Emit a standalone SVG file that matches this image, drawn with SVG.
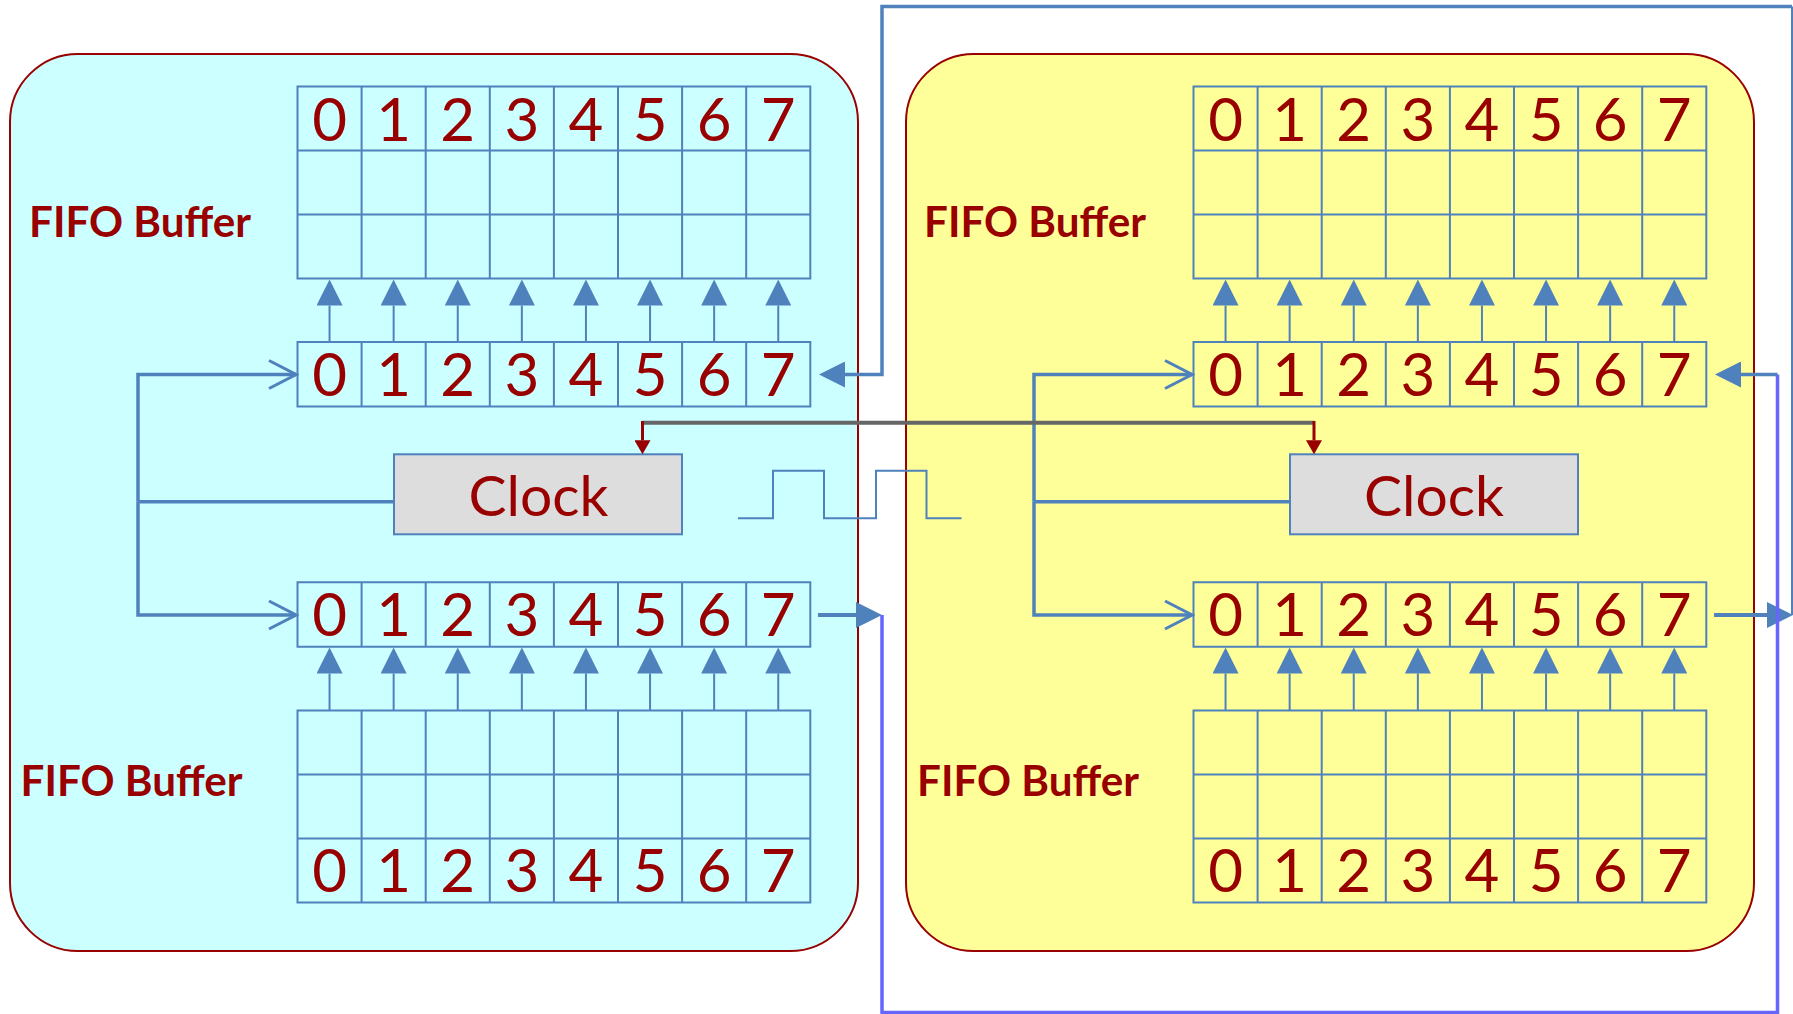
<svg xmlns="http://www.w3.org/2000/svg" width="1793" height="1014" viewBox="0 0 1793 1014">
<style>
.panelA{fill:#CCFFFF;stroke:#990000;stroke-width:2}
.panelB{fill:#FFFF99;stroke:#990000;stroke-width:2}
.grid{fill:none;stroke:#4F81BD;stroke-width:2}
.dig{font-family:Lato,"Liberation Sans",sans-serif;font-size:60px;fill:#990000;text-anchor:middle}
.lbl{font-family:Lato,"Liberation Sans",sans-serif;font-size:42px;font-weight:bold;fill:#990000}
.clk{fill:#DDDDDD;stroke:#4F81BD;stroke-width:2}
.clkt{font-family:Lato,"Liberation Sans",sans-serif;font-size:57px;fill:#990000;text-anchor:middle}
.up{stroke:#4F81BD;stroke-width:2;fill:none;marker-end:url(#tri)}
.bus{stroke:#4F81BD;stroke-width:3.5;fill:none}
.chv{stroke:#4F81BD;stroke-width:3.5;fill:none;marker-end:url(#chev)}
.arr{stroke:#4F81BD;stroke-width:4;fill:none;marker-end:url(#tri)}
.thin{stroke:#4F81BD;stroke-width:2;fill:none}
.purp{stroke:#6666FF;stroke-width:3.5;fill:none}
.gray{stroke:#666666;stroke-width:4;fill:none}
.red{stroke:#990000;stroke-width:3;fill:none;marker-end:url(#rtri)}
.wave{stroke:#4F81BD;stroke-width:2;fill:none}
</style>
<defs>
<marker id="tri" markerUnits="userSpaceOnUse" viewBox="0 0 26 26" markerWidth="26" markerHeight="26" refX="0" refY="13" orient="auto"><path d="M0,0 L26,13 L0,26 Z" fill="#4F81BD"/></marker>
<marker id="chev" markerUnits="userSpaceOnUse" viewBox="-30 -17 33 34" markerWidth="33" markerHeight="34" refX="0" refY="0" orient="auto"><path d="M-27,-14 L0,0 L-27,14" fill="none" stroke="#4F81BD" stroke-width="3"/></marker>
<marker id="rtri" markerUnits="userSpaceOnUse" viewBox="0 0 14 16" markerWidth="14" markerHeight="16" refX="0" refY="8" orient="auto"><path d="M0,0 L14,8 L0,16 Z" fill="#990000"/></marker>
<path id="grid3" d="M0,0 H512.8 V192 H0 Z M0,64 H512.8 M0,128 H512.8 M64.1,0 V192 M128.2,0 V192 M192.3,0 V192 M256.4,0 V192 M320.5,0 V192 M384.6,0 V192 M448.7,0 V192"/>
<path id="grid1" d="M0,0 H512.8 V64.5 H0 Z M64.1,0 V64.5 M128.2,0 V64.5 M192.3,0 V64.5 M256.4,0 V64.5 M320.5,0 V64.5 M384.6,0 V64.5 M448.7,0 V64.5"/>
</defs>
<rect x="0" y="0" width="1793" height="1014" fill="#FFFFFF"/>

<g id="node-left">
<rect class="panelA" x="10" y="54" width="848" height="897" rx="68" ry="68"/>
<text class="lbl" x="29" y="236.7" textLength="222" lengthAdjust="spacingAndGlyphs">FIFO Buffer</text>
<text class="lbl" x="20.5" y="796" textLength="222" lengthAdjust="spacingAndGlyphs">FIFO Buffer</text>
<use href="#grid3" class="grid" x="297.5" y="86.5"/>
<use href="#grid1" class="grid" x="297.5" y="342"/>
<use href="#grid1" class="grid" x="297.5" y="582.3"/>
<use href="#grid3" class="grid" x="297.5" y="710.5"/>
<text class="dig" x="329.55 393.65 457.75 521.85 585.95 650.05 714.15 778.25" y="141">01234567</text>
<text class="dig" x="329.55 393.65 457.75 521.85 585.95 650.05 714.15 778.25" y="396">01234567</text>
<text class="dig" x="329.55 393.65 457.75 521.85 585.95 650.05 714.15 778.25" y="636">01234567</text>
<text class="dig" x="329.55 393.65 457.75 521.85 585.95 650.05 714.15 778.25" y="891.7">01234567</text>
<rect class="clk" x="394" y="454.3" width="288" height="80"/>
<text class="clkt" x="538.5" y="516">Clock</text>
</g>

<g id="node-right">
<rect class="panelB" x="906" y="54" width="848" height="897" rx="68" ry="68"/>
<text class="lbl" x="924" y="236.7" textLength="222" lengthAdjust="spacingAndGlyphs">FIFO Buffer</text>
<text class="lbl" x="917" y="796" textLength="222" lengthAdjust="spacingAndGlyphs">FIFO Buffer</text>
<use href="#grid3" class="grid" x="1193.5" y="86.5"/>
<use href="#grid1" class="grid" x="1193.5" y="342"/>
<use href="#grid1" class="grid" x="1193.5" y="582.3"/>
<use href="#grid3" class="grid" x="1193.5" y="710.5"/>
<text class="dig" x="1225.55 1289.65 1353.75 1417.85 1481.95 1546.05 1610.15 1674.25" y="141">01234567</text>
<text class="dig" x="1225.55 1289.65 1353.75 1417.85 1481.95 1546.05 1610.15 1674.25" y="396">01234567</text>
<text class="dig" x="1225.55 1289.65 1353.75 1417.85 1481.95 1546.05 1610.15 1674.25" y="636">01234567</text>
<text class="dig" x="1225.55 1289.65 1353.75 1417.85 1481.95 1546.05 1610.15 1674.25" y="891.7">01234567</text>
<rect class="clk" x="1290" y="454.3" width="288" height="80"/>
<text class="clkt" x="1434" y="516">Clock</text>
</g>

<g id="connectors">
<!-- left vertical transfer arrows -->
<line class="up" x1="329.55" y1="342" x2="329.55" y2="305.5"/>
<line class="up" x1="393.65" y1="342" x2="393.65" y2="305.5"/>
<line class="up" x1="457.75" y1="342" x2="457.75" y2="305.5"/>
<line class="up" x1="521.85" y1="342" x2="521.85" y2="305.5"/>
<line class="up" x1="585.95" y1="342" x2="585.95" y2="305.5"/>
<line class="up" x1="650.05" y1="342" x2="650.05" y2="305.5"/>
<line class="up" x1="714.15" y1="342" x2="714.15" y2="305.5"/>
<line class="up" x1="778.25" y1="342" x2="778.25" y2="305.5"/>
<line class="up" x1="329.55" y1="710.5" x2="329.55" y2="673.5"/>
<line class="up" x1="393.65" y1="710.5" x2="393.65" y2="673.5"/>
<line class="up" x1="457.75" y1="710.5" x2="457.75" y2="673.5"/>
<line class="up" x1="521.85" y1="710.5" x2="521.85" y2="673.5"/>
<line class="up" x1="585.95" y1="710.5" x2="585.95" y2="673.5"/>
<line class="up" x1="650.05" y1="710.5" x2="650.05" y2="673.5"/>
<line class="up" x1="714.15" y1="710.5" x2="714.15" y2="673.5"/>
<line class="up" x1="778.25" y1="710.5" x2="778.25" y2="673.5"/>
<!-- right vertical transfer arrows -->
<line class="up" x1="1225.55" y1="342" x2="1225.55" y2="305.5"/>
<line class="up" x1="1289.65" y1="342" x2="1289.65" y2="305.5"/>
<line class="up" x1="1353.75" y1="342" x2="1353.75" y2="305.5"/>
<line class="up" x1="1417.85" y1="342" x2="1417.85" y2="305.5"/>
<line class="up" x1="1481.95" y1="342" x2="1481.95" y2="305.5"/>
<line class="up" x1="1546.05" y1="342" x2="1546.05" y2="305.5"/>
<line class="up" x1="1610.15" y1="342" x2="1610.15" y2="305.5"/>
<line class="up" x1="1674.25" y1="342" x2="1674.25" y2="305.5"/>
<line class="up" x1="1225.55" y1="710.5" x2="1225.55" y2="673.5"/>
<line class="up" x1="1289.65" y1="710.5" x2="1289.65" y2="673.5"/>
<line class="up" x1="1353.75" y1="710.5" x2="1353.75" y2="673.5"/>
<line class="up" x1="1417.85" y1="710.5" x2="1417.85" y2="673.5"/>
<line class="up" x1="1481.95" y1="710.5" x2="1481.95" y2="673.5"/>
<line class="up" x1="1546.05" y1="710.5" x2="1546.05" y2="673.5"/>
<line class="up" x1="1610.15" y1="710.5" x2="1610.15" y2="673.5"/>
<line class="up" x1="1674.25" y1="710.5" x2="1674.25" y2="673.5"/>

<!-- clock buses -->
<path class="chv" d="M138,501.7 V374.5 H296"/>
<path class="chv" d="M138,501.7 V615 H296"/>
<path class="bus" d="M138,501.7 H394"/>
<path class="chv" d="M1034,501.7 V374.5 H1192"/>
<path class="chv" d="M1034,501.7 V615 H1192"/>
<path class="bus" d="M1034,501.7 H1290"/>

<!-- clock sync line -->
<path class="gray" d="M642.5,422.7 H1314"/>
<path class="red" d="M642.5,421 V440.3"/>
<path class="red" d="M1314,421 V440.3"/>

<!-- clock waveform -->
<path class="wave" d="M738,518.3 H773 V470.7 H824 V518.3 H876 V470.7 H926.5 V518.3 H961.5"/>

<!-- loop: right output to left input -->
<path class="arr" d="M1714,615 H1767"/>
<path class="thin" d="M1792,615 V6.5"/>
<path class="bus" d="M1792,6.5 H882 V374.5 H845" style="marker-end:url(#tri)"/>

<!-- loop: left output to right input -->
<path class="arr" d="M818,615 H856"/>
<path class="purp" d="M882,615 V1012.5 H1777.5 V374.5"/>
<path class="bus" d="M1777.5,374.5 H1741" style="marker-end:url(#tri)"/>
</g>
</svg>
